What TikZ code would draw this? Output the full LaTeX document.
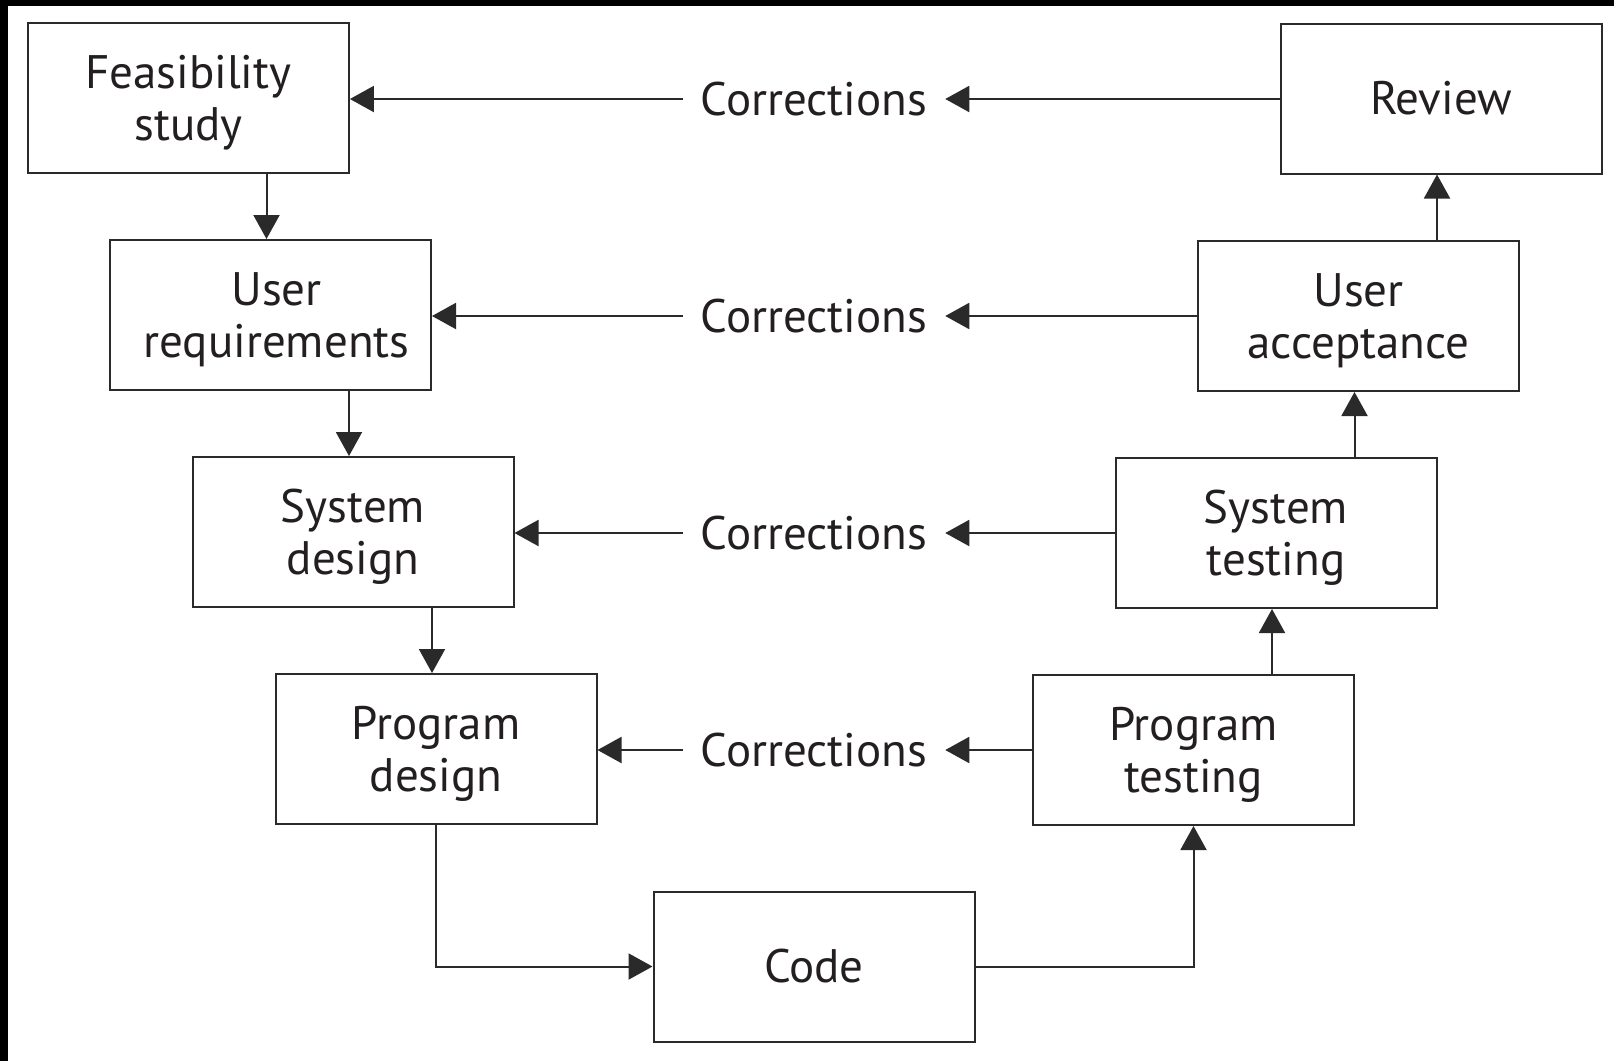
\documentclass[tikz,border=0pt]{standalone}
\usepackage{fontspec}
\setmainfont{PT Sans}
\usetikzlibrary{arrows.meta}
\definecolor{ink}{HTML}{231F20}
\definecolor{edge}{HTML}{2A2A2A}
\newcommand{\stx}[1]{\raisebox{-6pt}[\height][\depth]{\begin{tabular}{@{}c@{}}#1\end{tabular}}}
\tikzset{
  stage/.style={draw=edge, line width=2pt, minimum width=321pt, minimum height=150pt,
    inner sep=0pt, align=center, text=ink, font=\fontsize{47}{52.5}\selectfont},
  corr/.style={inner xsep=18pt, inner ysep=4pt, text=ink, font=\fontsize{47}{52.5}\selectfont},
  arr/.style={draw=edge, line width=2pt, -{Triangle[length=24pt,width=26pt]}},
  ln/.style={draw=edge, line width=2pt}
}
\begin{document}
\begin{tikzpicture}[x=1pt,y=-1pt]
\useasboundingbox (0,0) rectangle (1614,1061);
\fill[white] (0,0) rectangle (1614,1061);
\fill[black] (0,0) rectangle (1614,6);
\fill[black] (0,0) rectangle (8,1061);

\node[stage] (fs) at (188.4,98) {\stx{Feasibility\\study}};
\node[stage] (ur) at (270.5,315) {\hspace*{12pt}\stx{User\\requirements}};
\node[stage] (sd) at (353,532) {\stx{System\\design}};
\node[stage] (pd) at (436,749) {\stx{Program\\design}};
\node[stage] (code) at (814,966.5) {Code};
\node[stage] (pt) at (1193.5,750) {\stx{Program\\testing}};
\node[stage] (st) at (1276,533) {\stx{System\\testing}};
\node[stage] (ua) at (1358.5,316) {\stx{User\\acceptance}};
\node[stage] (rv) at (1441,98.5) {Review};

\node[corr] (c1) at (814,99) {Corrections};
\node[corr] (c2) at (814,316) {Corrections};
\node[corr] (c3) at (814,533) {Corrections};
\node[corr] (c4) at (814,750) {Corrections};

\draw[arr] ([xshift=-4pt]fs.south -| ur.north) -- ([xshift=-4pt]ur.north);
\draw[arr] ([xshift=-4pt]ur.south -| sd.north) -- ([xshift=-4pt]sd.north);
\draw[arr] ([xshift=-4pt]sd.south -| pd.north) -- ([xshift=-4pt]pd.north);
\draw[arr] (pd.south) |- (code.west);
\draw[arr] (code.east) -| (pt.south);
\draw[arr] ([xshift=-4pt]pt.north -| st.south) -- ([xshift=-4pt]st.south);
\draw[arr] ([xshift=-4pt]st.north -| ua.south) -- ([xshift=-4pt]ua.south);
\draw[arr] ([xshift=-4pt]ua.north -| rv.south) -- ([xshift=-4pt]rv.south);

\draw[arr] (rv.west |- c1) -- (c1.east);
\draw[arr] (c1.west) -- (fs.east |- c1);
\draw[arr] (ua.west |- c2) -- (c2.east);
\draw[arr] (c2.west) -- (ur.east |- c2);
\draw[arr] (st.west |- c3) -- (c3.east);
\draw[arr] (c3.west) -- (sd.east |- c3);
\draw[arr] (pt.west |- c4) -- (c4.east);
\draw[arr] (c4.west) -- (pd.east |- c4);
\end{tikzpicture}
\end{document}
